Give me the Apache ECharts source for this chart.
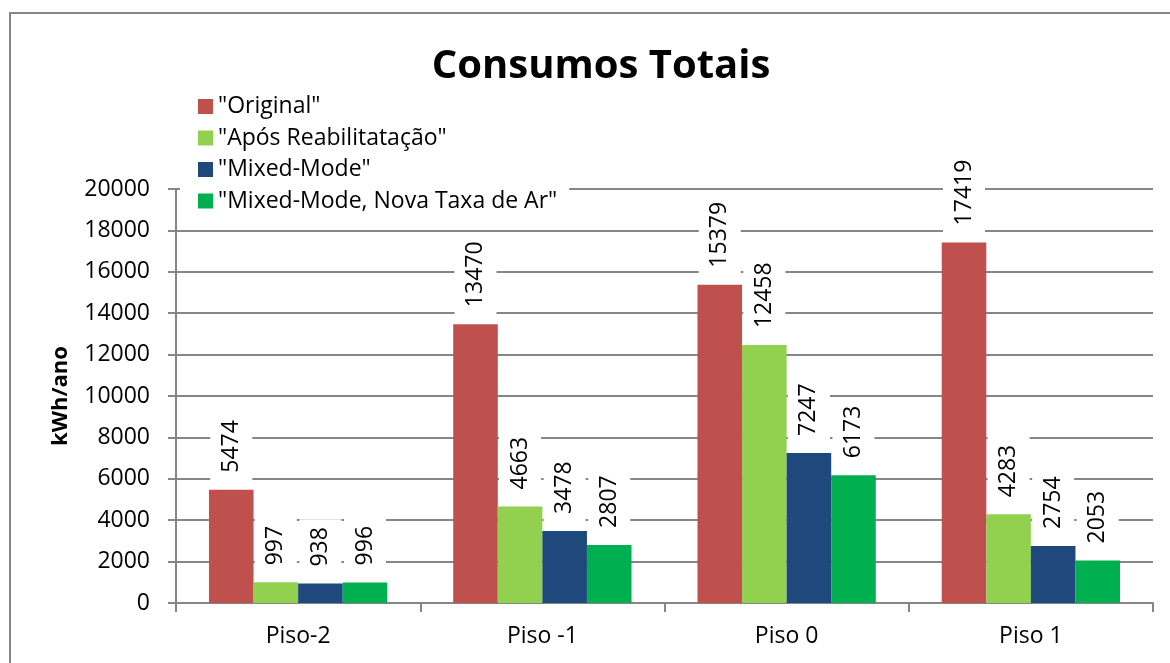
<!DOCTYPE html>
<html>
<head>
<meta charset="utf-8">
<title>Consumos Totais</title>
<script src="https://cdn.jsdelivr.net/npm/echarts@6/dist/echarts.min.js"></script>
<style>
  html, body { margin: 0; padding: 0; background: #fff; }
  #chart { width: 1170px; height: 663px; }
</style>
</head>
<body>
<div id="chart"></div>
<script>
// Floors (categories) and annual consumption per scenario, kWh/ano
const categories = ['Piso-2', 'Piso -1', 'Piso 0', 'Piso 1'];
const seriesNames = ['"Original"', '"Após Reabilitatação"', '"Mixed-Mode"', '"Mixed-Mode, Nova Taxa de Ar"'];
const original = [5474, 13470, 15379, 17419];
const aposReabilitacao = [997, 4663, 12458, 4283];
const mixedMode = [938, 3478, 7247, 2754];
const mixedModeNovaTaxa = [996, 2807, 6173, 2053];
const yTicks = { min: 0, max: 20000, interval: 2000 };

const colors = ['#C0504D', '#92D050', '#1F497D', '#00B050'];
const FONT = '"Open Sans", "Liberation Sans", sans-serif';
const GREY = '#868686';

const chart = echarts.init(document.getElementById('chart'), null, { renderer: 'canvas' });

function barSeries(name, data, color) {
  return {
    name: name,
    type: 'bar',
    data: data,
    barGap: '0%',
    barCategoryGap: '27%',
    itemStyle: { color: color },
    label: {
      show: true,
      position: 'top',
      rotate: 90,
      align: 'left',
      verticalAlign: 'middle',
      distance: 7,
      color: '#000',
      fontFamily: FONT,
      fontSize: 23,
      lineHeight: 22,
      backgroundColor: '#fff',
      padding: [10, 8, 10, 10]
    }
  };
}

chart.setOption({
  animation: false,
  color: colors,
  title: {
    text: 'Consumos Totais',
    left: 596,
    top: 42,
    textAlign: 'center',
    textStyle: { fontFamily: FONT, fontWeight: 'bold', fontSize: 40, color: '#000' }
  },
  legend: {
    orient: 'vertical',
    left: 180,
    top: 89,
    padding: [6, 12, 6, 18],
    backgroundColor: '#fff',
    itemWidth: 15,
    itemHeight: 15,
    itemGap: 8.5,
    icon: 'rect',
    data: seriesNames,
    textStyle: { fontFamily: FONT, fontSize: 23, lineHeight: 22, color: '#000' }
  },
  grid: { left: 176, right: 17, top: 189, bottom: 60, containLabel: false },
  xAxis: {
    type: 'category',
    data: categories,
    axisLine: { lineStyle: { color: GREY, width: 2 } },
    axisTick: { show: true, length: 9, interval: 0, lineStyle: { color: GREY, width: 2 } },
    axisLabel: { fontFamily: FONT, fontSize: 23, color: '#000', margin: 22 }
  },
  yAxis: {
    type: 'value',
    min: yTicks.min,
    max: yTicks.max,
    interval: yTicks.interval,
    name: 'kWh/ano',
    nameLocation: 'middle',
    nameRotate: 90,
    nameGap: 104,
    nameTextStyle: { fontFamily: FONT, fontWeight: 'bold', fontSize: 22, color: '#000' },
    axisLine: { show: true, lineStyle: { color: GREY, width: 2 } },
    axisTick: { show: true, length: 8, lineStyle: { color: GREY, width: 2 } },
    axisLabel: {
      fontFamily: FONT, fontSize: 23, color: '#000', margin: 26,
      formatter: function (v) { return String(v); }
    },
    splitLine: { show: true, lineStyle: { color: GREY, width: 2 } }
  },
  graphic: [{
    type: 'rect',
    z: -10,
    silent: true,
    shape: { x: 10, y: 13, width: 1300, height: 800 },
    style: { fill: null, stroke: GREY, lineWidth: 2 }
  }],
  series: [
    barSeries(seriesNames[0], original, colors[0]),
    barSeries(seriesNames[1], aposReabilitacao, colors[1]),
    barSeries(seriesNames[2], mixedMode, colors[2]),
    barSeries(seriesNames[3], mixedModeNovaTaxa, colors[3])
  ]
});
</script>
</body>
</html>
